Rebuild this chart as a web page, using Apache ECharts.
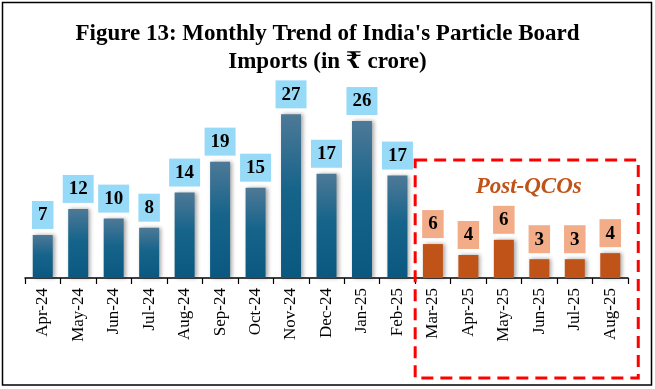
<!DOCTYPE html>
<html>
<head>
<meta charset="utf-8">
<script src="https://cdn.jsdelivr.net/npm/echarts@6/dist/echarts.min.js"></script>
<style>
html,body{margin:0;padding:0;background:#fff;}
#c{width:655px;height:389px;}
</style>
</head>
<body>
<div id="c"></div>
<script>
const categories = ['Apr-24','May-24','Jun-24','Jul-24','Aug-24','Sep-24','Oct-24','Nov-24','Dec-24','Jan-25','Feb-25','Mar-25','Apr-25','May-25','Jun-25','Jul-25','Aug-25'];
const preValues = [7.1, 11.4, 9.8, 8.3, 14.1, 19.2, 14.9, 27.0, 17.2, 25.9, 16.9, null, null, null, null, null, null];
const postValues = [null, null, null, null, null, null, null, null, null, null, null, 5.6, 3.8, 6.3, 3.1, 3.1, 4.1];
const preLabels = [7, 12, 10, 8, 14, 19, 15, 27, 17, 26, 17];
const postLabels = [6, 4, 6, 3, 3, 4];

const chart = echarts.init(document.getElementById('c'), null, {renderer: 'canvas'});
const serif = '"Liberation Serif", "Times New Roman", "DejaVu Serif", serif';

const labelBase = {
  show: true,
  position: 'top',
  distance: 6,
  color: '#000',
  fontFamily: serif,
  fontWeight: 'bold',
  fontSize: 19,
  lineHeight: 19,
  padding: [5, 6, 4, 6]
};

const option = {
  backgroundColor: '#fff',
  animation: false,
  title: {
    text: "Figure 13: Monthly Trend of India's Particle Board\nImports (in \u20B9 crore)",
    left: 'center',
    top: 15,
    textStyle: {
      fontFamily: serif,
      fontWeight: 'bold',
      fontSize: 23,
      lineHeight: 28,
      color: '#000'
    }
  },
  grid: {left: 25, right: 27, top: 78, bottom: 111},
  xAxis: {
    type: 'category',
    data: categories,
    boundaryGap: true,
    axisLine: {lineStyle: {color: '#000', width: 1.5}},
    axisTick: {show: true, length: 6, interval: 0, lineStyle: {color: '#000', width: 1.2}},
    axisLabel: {
      interval: 0,
      rotate: 90,
      margin: 10,
      color: '#000',
      fontFamily: serif,
      fontSize: 17
    }
  },
  yAxis: {
    type: 'value',
    min: 0,
    max: 33,
    show: false,
    splitLine: {show: false}
  },
  series: [
    {
      type: 'bar',
      data: preValues,
      barWidth: 20,
      barGap: '-100%',
      itemStyle: {
        color: new echarts.graphic.LinearGradient(0, 0, 0, 1, [
          {offset: 0, color: '#4E7997'},
          {offset: 0.45, color: '#17648B'},
          {offset: 1, color: '#0A5880'}
        ]),
        shadowColor: 'rgba(0,0,0,0.35)',
        shadowBlur: 4,
        shadowOffsetX: 2,
        shadowOffsetY: 0
      },
      label: Object.assign({}, labelBase, {
        backgroundColor: '#97DAF7',
        formatter: p => String(preLabels[p.dataIndex])
      })
    },
    {
      type: 'bar',
      data: postValues,
      barWidth: 20,
      barGap: '-100%',
      itemStyle: {
        color: '#C05418',
        shadowColor: 'rgba(0,0,0,0.35)',
        shadowBlur: 4,
        shadowOffsetX: 2,
        shadowOffsetY: 0
      },
      label: Object.assign({}, labelBase, {
        backgroundColor: '#F2AC88',
        formatter: p => String(postLabels[p.dataIndex - 11])
      })
    }
  ]
};
chart.setOption(option);

// Annotation box around the post-QCO months
const leftPx = (chart.convertToPixel({xAxisIndex: 0}, 'Feb-25') + chart.convertToPixel({xAxisIndex: 0}, 'Mar-25')) / 2;
const rightPx = chart.convertToPixel({xAxisIndex: 0}, 'Aug-25') + 28;
const midPx = (leftPx + rightPx) / 2;
chart.setOption({
  graphic: [
    {
      type: 'rect',
      shape: {x: 2.5, y: 2.5, width: 649, height: 382.5},
      style: {fill: 'none', stroke: '#000', lineWidth: 1.5},
      silent: true,
      z: 100
    },
    {
      type: 'rect',
      shape: {x: leftPx, y: 160, width: rightPx - leftPx, height: 218},
      style: {fill: 'none', stroke: '#FF0000', lineWidth: 3, lineDash: [12, 7]},
      silent: true,
      z: 100
    },
    {
      type: 'text',
      x: midPx + 2,
      y: 187,
      style: {
        text: 'Post-QCOs',
        fill: '#C0531A',
        font: 'italic bold 23px ' + serif,
        textAlign: 'center',
        textVerticalAlign: 'middle'
      },
      silent: true,
      z: 100
    }
  ]
});
</script>
</body>
</html>
